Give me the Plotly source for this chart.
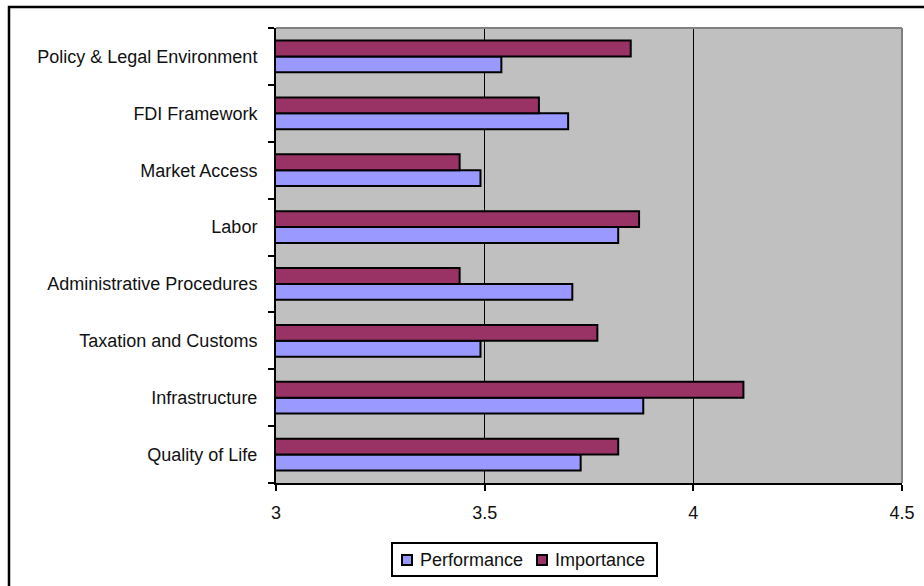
import plotly.graph_objects as go

# Survey categories, listed top to bottom as they appear on the chart
categories = [
    "Policy & Legal Environment",
    "FDI Framework",
    "Market Access",
    "Labor",
    "Administrative Procedures",
    "Taxation and Customs",
    "Infrastructure",
    "Quality of Life",
]
performance = [3.54, 3.70, 3.49, 3.82, 3.71, 3.49, 3.88, 3.73]
importance = [3.85, 3.63, 3.44, 3.87, 3.44, 3.77, 4.12, 3.82]
x_ticks = [3, 3.5, 4, 4.5]

series_names = ["Performance", "Importance"]
series_colors = ["#9999FF", "#993366"]

W, H = 924, 586
L, R, T, B = 276, 22, 28, 103
pw, ph = W - L - R, H - T - B

def px_x(p):
    return (p - L) / pw

def px_y(p):
    return (H - B - p) / ph

fig = go.Figure()
for name, vals, col in zip(series_names, [performance, importance], series_colors):
    fig.add_trace(go.Bar(
        name=name, y=categories, x=vals, orientation="h",
        marker=dict(color=col, line=dict(color="black", width=2)),
        base=0, showlegend=False,
    ))

font = dict(family="Liberation Sans, Arial, sans-serif", size=18, color="#111111")

shapes = [
    # plot-area frame on top and right
    dict(type="line", xref="paper", yref="paper", x0=0, x1=1, y0=1, y1=1,
         line=dict(color="#808080", width=2)),
    dict(type="line", xref="paper", yref="paper", x0=1, x1=1, y0=0, y1=1,
         line=dict(color="#808080", width=2)),
    # outer chart border
    dict(type="rect", xref="paper", yref="paper",
         x0=px_x(9), x1=px_x(940), y0=px_y(600), y1=px_y(7),
         line=dict(color="black", width=2.5), fillcolor="rgba(0,0,0,0)"),
    # legend box
    dict(type="rect", xref="paper", yref="paper",
         x0=px_x(392), x1=px_x(657), y0=px_y(576), y1=px_y(543),
         line=dict(color="black", width=2), fillcolor="white"),
]
annotations = []

# legend entries: swatch + label
legend_items = [(402, 418), (537, 553)]
for (sx, tx), name, col in zip(legend_items, series_names, series_colors):
    shapes.append(dict(
        type="rect", xref="paper", yref="paper",
        x0=px_x(sx), x1=px_x(sx + 10), y0=px_y(565), y1=px_y(555),
        line=dict(color="black", width=2), fillcolor=col,
    ))
    annotations.append(dict(
        xref="paper", yref="paper", x=px_x(tx), y=px_y(560),
        xanchor="left", yanchor="middle", text=name, showarrow=False,
        font=font,
    ))

fig.update_layout(
    width=W, height=H,
    margin=dict(l=L, r=R, t=T, b=B, autoexpand=False),
    paper_bgcolor="white",
    plot_bgcolor="#C0C0C0",
    barmode="group",
    bargap=0.44,
    bargroupgap=0,
    font=font,
    showlegend=False,
    xaxis=dict(
        range=[3, 4.5], tickvals=x_ticks, ticktext=[str(v) for v in x_ticks],
        showgrid=True, gridcolor="black", gridwidth=1,
        showline=True, linecolor="black", linewidth=2,
        ticks="outside", ticklen=6, tickwidth=2, tickcolor="black",
        ticklabelstandoff=6, automargin=False,
        zeroline=False, fixedrange=True,
    ),
    yaxis=dict(
        categoryorder="array", categoryarray=categories[::-1],
        tickson="boundaries", ticks="outside", ticklen=6, tickwidth=2,
        tickcolor="black", showline=True, linecolor="black", linewidth=2,
        showgrid=False, ticklabelstandoff=13, automargin=False,
        fixedrange=True,
    ),
    shapes=shapes,
    annotations=annotations,
)

fig.write_html("out.html")
